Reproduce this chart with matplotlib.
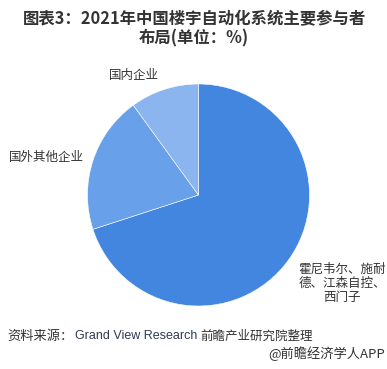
import matplotlib.pyplot as plt

plt.rcParams['font.family'] = ['Noto Sans CJK SC', 'DejaVu Sans']

# 数据
labels = ['霍尼韦尔、施耐\n德、江森自控、\n西门子', '国外其他企业', '国内企业']
shares = [70, 20, 10]
colors = ['#4286E0', '#68A0EA', '#8AB5EF']

W, H = 387, 369
fig = plt.figure(figsize=(W / 100, H / 100), dpi=100)

# pie placed by pixel geometry (center ~ (198, 195), radius ~111)
cx, cy, r = 198.5, 195, 111
ax = fig.add_axes([(cx - r) / W, (H - cy - r) / H, 2 * r / W, 2 * r / H])
ax.pie(shares, colors=colors, startangle=90, counterclock=False, radius=1,
       wedgeprops=dict(edgecolor='white', linewidth=0.4))
ax.set_xlim(-1, 1)
ax.set_ylim(-1, 1)
ax.set_aspect('equal')
ax.axis('off')


def px(x, y):
    return x / W, 1 - y / H


# title
fig.text(*px(194, 19), '图表3：2021年中国楼宇自动化系统主要参与者', ha='center', va='center',
         fontsize=11.8, fontweight='bold', color='#333333')
fig.text(*px(194, 38), '布局(单位：%)', ha='center', va='center',
         fontsize=11.8, fontweight='bold', color='#333333')

# slice labels
fig.text(*px(134, 75), labels[2], ha='center', va='center', fontsize=9, color='#333333')
fig.text(*px(46, 157), labels[1], ha='center', va='center', fontsize=9, color='#333333')
fig.text(*px(342, 283), labels[0], ha='center', va='center', fontsize=9,
         color='#333333', linespacing=1.1)

# source
fig.text(*px(7, 336), '资料来源：', ha='left', va='center', fontsize=9.5, color='#333333')
fig.text(*px(75, 336), 'Grand View Research', ha='left', va='center', fontsize=9,
         color='#2E3B55', family=['Liberation Sans'])
fig.text(*px(200, 336), '前瞻产业研究院整理', ha='left', va='center', fontsize=9,
         color='#333333')
fig.text(*px(385, 354), '@前瞻经济学人APP', ha='right', va='center', fontsize=9.5,
         color='#333333')

fig.savefig('out.png', dpi=100, facecolor='white')
